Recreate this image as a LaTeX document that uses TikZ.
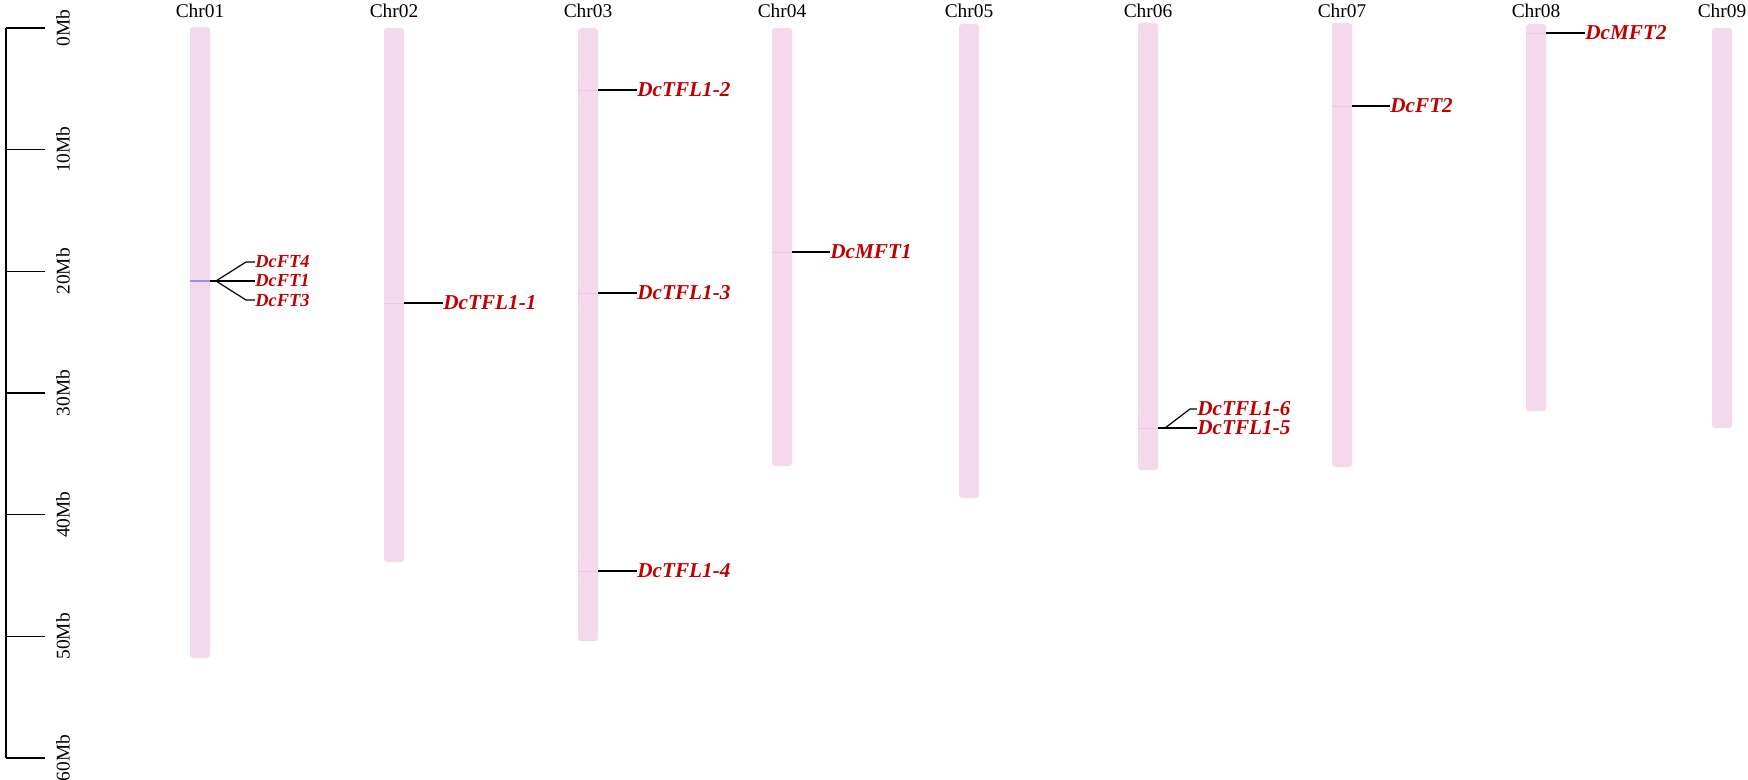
\documentclass[tikz,border=0pt]{standalone}
\usepackage{fontspec}
\setmainfont{Liberation Serif}
\usetikzlibrary{positioning}
\definecolor{chrpink}{HTML}{F3D9EB}
\definecolor{genered}{HTML}{C00000}
\definecolor{markpurple}{HTML}{9C8FE8}
\definecolor{markpink}{HTML}{E9C9DE}

\begin{document}
\begin{tikzpicture}[x=0.5pt, y=-0.5pt,
  chrbar/.style={fill=chrpink, rounded corners=1.5pt},
  chrname/.style={font=\fontsize{9.7}{11}\selectfont, inner sep=0pt},
  scalelabel/.style={font=\fontsize{9.7}{11}\selectfont, rotate=90, inner sep=0pt},
  gene/.style={font=\fontsize{10.6}{12}\selectfont\bfseries\itshape, text=genered,
               anchor=west, inner sep=0pt},
  smallgene/.style={gene, font=\fontsize{9.2}{11}\selectfont\bfseries\itshape},
  link/.style={draw=black, line width=0.6pt},
  genemark/.style={draw=markpink, line width=0.4pt},
  axisline/.style={draw=black, line width=0.7pt}
]
\useasboundingbox (0,0) rectangle (1748,780);

% scale bar
\coordinate (top) at (6,28);
\coordinate (bottom) at (6,758);
\draw[axisline] (top) -- (bottom);
\foreach \i/\lab in {0/0Mb, 1/10Mb, 2/20Mb, 3/30Mb, 4/40Mb, 5/50Mb, 6/60Mb} {
  \coordinate (tick\i) at (6,{28+\i*121.67});
  \draw[axisline] (tick\i) -- ++(39,0);
  \node[scalelabel] (mb\i) at (63,{28+\i*121.67}) {\lab};
}

% chromosomes
\foreach \i/\x/\t/\b in {1/200/27/658, 2/394/28/562, 3/588/28/641,
                         4/782/28/466, 5/969/24/498, 6/1148/23/470,
                         7/1342/23/467, 8/1536/24/411, 9/1722/28/428} {
  \fill[chrbar] (\x-10,\t) rectangle (\x+10,\b);
  \node[chrname] (chr\i) at (\x,11) {Chr0\i};
}

% single genes
\foreach \g/\x/\y/\lx in {DcTFL1-1/404/303/443, DcTFL1-2/598/90/637,
                          DcTFL1-3/598/293/637, DcTFL1-4/598/571/637,
                          DcMFT1/792/252/830, DcFT2/1352/106/1390,
                          DcMFT2/1546/33/1585} {
  \draw[genemark] (\x-20,\y) -- (\x,\y);
  \coordinate (s-\g) at (\x,\y);
  \node[gene] (\g) at (\lx,\y) {\g};
  \draw[link] (s-\g) -- (\g.west);
}

% Chr01 cluster
\draw[draw=markpurple, line width=0.6pt] (190,281) -- (210,281);
\coordinate (s-ft) at (210,281);
\coordinate (b-ft) at (216,281);
\node[smallgene] (DcFT4) at (255,262) {DcFT4};
\node[smallgene] (DcFT1) at (255,281) {DcFT1};
\node[smallgene] (DcFT3) at (255,300) {DcFT3};
\draw[link, line width=1.2pt] (s-ft) -- (b-ft);
\draw[link] (b-ft) -- (246,262) -- (DcFT4.west);
\draw[link] (b-ft) -- (DcFT1.west);
\draw[link] (b-ft) -- (246,300) -- (DcFT3.west);

% Chr06 cluster
\draw[genemark] (1138,428) -- (1158,428);
\coordinate (s-tfl) at (1158,428);
\coordinate (b-tfl) at (1165,428);
\node[gene] (DcTFL1-6) at (1197,409) {DcTFL1-6};
\node[gene] (DcTFL1-5) at (1197,428) {DcTFL1-5};
\draw[link] (s-tfl) -- (b-tfl);
\draw[link] (b-tfl) -- (1190,409) -- (DcTFL1-6.west);
\draw[link] (b-tfl) -- (DcTFL1-5.west);
\end{tikzpicture}
\end{document}
